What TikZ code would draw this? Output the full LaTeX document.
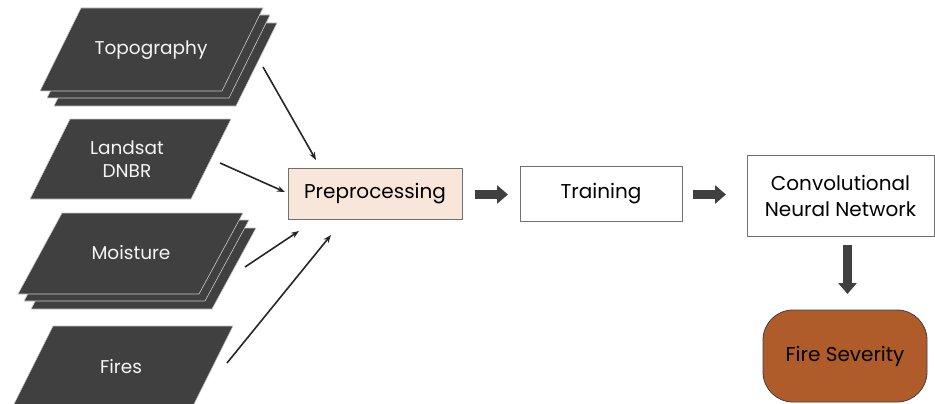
\documentclass[tikz,border=0pt]{standalone}
\usepackage{fontspec}
\setmainfont{Poppins}
\usetikzlibrary{arrows.meta}
\definecolor{slab}{HTML}{404040}
\definecolor{slabedge}{HTML}{C8C8C8}
\definecolor{peach}{HTML}{F9E6DB}
\definecolor{boxedge}{HTML}{707070}
\definecolor{rust}{HTML}{B05B2A}
\tikzset{
  slabfill/.style={fill=slab,draw=slabedge,line width=0.6pt},
  slabtext/.style={text=white!92!gray,font=\fontsize{18.5}{23}\selectfont,align=center},
  procbox/.style={draw=boxedge,line width=0.8pt,font=\fontsize{20}{25}\selectfont,align=center,inner sep=0pt},
  thinarrow/.style={draw=black!85,line width=1.6pt,-{Stealth[length=8pt,width=6pt]}},
  blockarrow/.style={draw=slab,line width=9pt,-{Triangle[length=11pt,width=18pt]}},
}
\newcommand{\slabpath}[5]{% x y width height offset : TL corner
  \path[slabfill] (#1,#2) -- ++(#3,0) -- ++(-#5,#4) -- ++(-#3,0) -- cycle;}
\begin{document}
\begin{tikzpicture}[x=1pt,y=-1pt]
\useasboundingbox (0,0) rectangle (935,404);
\clip (0,0) rectangle (935,404);
% Topography stack
\slabpath{95}{23}{182}{83}{41}
\slabpath{88}{15}{182}{83}{41}
\slabpath{81}{8}{182}{83}{41}
\node[slabtext] (topo) at (151,50) {Topography};
% Landsat
\slabpath{70}{119}{161}{80}{40}
\node[slabtext] (landsat) at (127,159) {Landsat\\DNBR};
% Moisture stack
\slabpath{75}{228}{181}{81}{44}
\slabpath{68}{220}{181}{81}{44}
\slabpath{62}{213}{181}{81}{44}
\node[slabtext] (moist) at (131,253) {Moisture};
% Fires
\slabpath{53}{326}{180}{80}{40}
\node[slabtext] (fires) at (121,367) {Fires};
% boxes
\node[procbox,fill=peach,minimum width=174pt,minimum height=51pt] (pre) at (375,193.5) {Preprocessing};
\node[procbox,fill=white,minimum width=162pt,minimum height=55pt] (train) at (601,193.5) {Training};
\node[procbox,fill=white,minimum width=187pt,minimum height=81pt] (cnn) at (840.5,195.5) {Convolutional\\[1pt]Neural Network};
\node[draw=black!75,fill=rust,line width=0.8pt,rounded corners=30pt,minimum width=164pt,minimum height=92pt,font=\fontsize{20}{25}\selectfont,inner sep=0pt] (sev) at (845,356) {Fire Severity};
% thin arrows
\coordinate (t0) at (263,67); \coordinate (t1) at (316,160);
\coordinate (l0) at (220,163); \coordinate (l1) at (285,192);
\coordinate (m0) at (245,267); \coordinate (m1) at (299,231);
\coordinate (f0) at (227,363); \coordinate (f1) at (331,235);
\draw[thinarrow] (t0) -- (t1);
\draw[thinarrow] (l0) -- (l1);
\draw[thinarrow] (m0) -- (m1);
\draw[thinarrow] (f0) -- (f1);
% block arrows
\coordinate (a1s) at (475,194.5); \coordinate (a1e) at (508,194.5);
\coordinate (a2s) at (693,194.5); \coordinate (a2e) at (726,194.5);
\coordinate (a3s) at (847.5,245); \coordinate (a3e) at (847.5,294);
\draw[blockarrow] (a1s) -- (a1e);
\draw[blockarrow] (a2s) -- (a2e);
\draw[blockarrow] (a3s) -- (a3e);
\end{tikzpicture}
\end{document}
